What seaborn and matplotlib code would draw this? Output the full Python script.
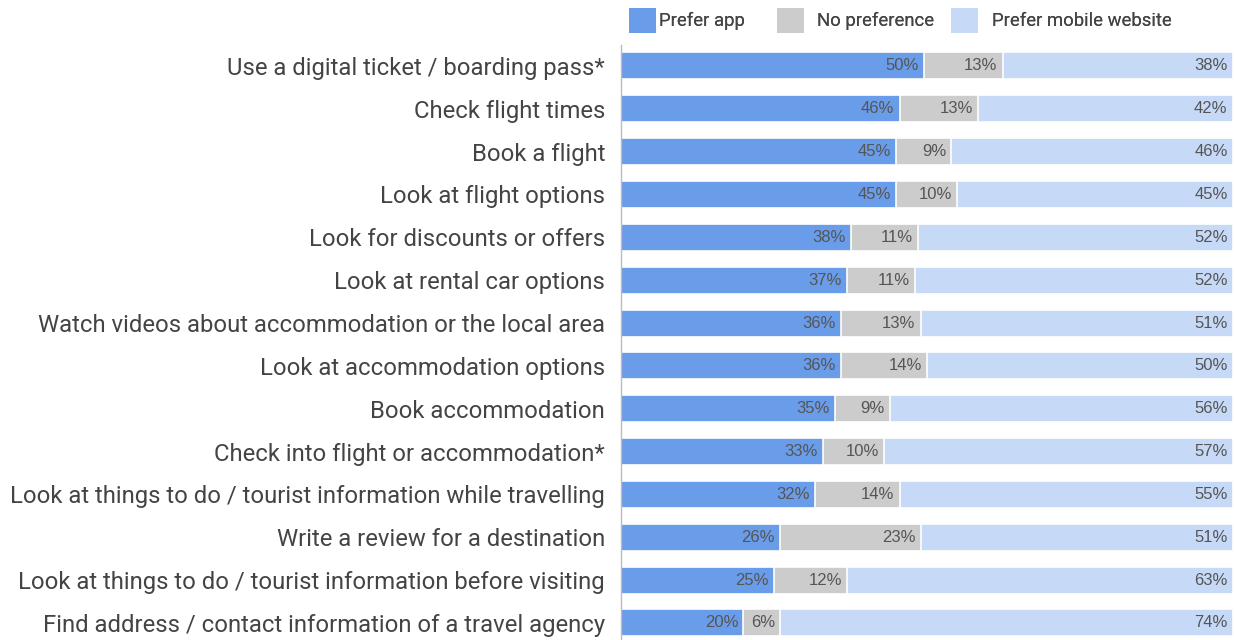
import numpy as np
import pandas as pd
import matplotlib
matplotlib.use("Agg")
import matplotlib.pyplot as plt
from matplotlib.patches import Patch
import seaborn as sns

categories = [
    "Use a digital ticket / boarding pass*",
    "Check flight times",
    "Book a flight",
    "Look at flight options",
    "Look for discounts or offers",
    "Look at rental car options",
    "Watch videos about accommodation or the local area",
    "Look at accommodation options",
    "Book accommodation",
    "Check into flight or accommodation*",
    "Look at things to do / tourist information while travelling",
    "Write a review for a destination",
    "Look at things to do / tourist information before visiting",
    "Find address / contact information of a travel agency",
]
prefer_app = [50, 46, 45, 45, 38, 37, 36, 36, 35, 33, 32, 26, 25, 20]
no_preference = [13, 13, 9, 10, 11, 11, 13, 14, 9, 10, 14, 23, 12, 6]
prefer_web = [38, 42, 46, 45, 52, 52, 51, 50, 56, 57, 55, 51, 63, 74]
series_names = ["Prefer app", "No preference", "Prefer mobile website"]

colors = ["#6a9de9", "#cccccc", "#c6d9f6"]

sns.set_theme(style="white")
plt.rcParams["font.family"] = ["Roboto", "DejaVu Sans"]

df = pd.DataFrame({
    "category": categories,
    "app": prefer_app,
    "none": no_preference,
    "web": prefer_web,
})
total = df[["app", "none", "web"]].sum(axis=1)
df["s_app"] = df["app"] / total * 100
df["s_none"] = df["none"] / total * 100
df["s_web"] = df["web"] / total * 100
df["c1"] = df["s_app"]
df["c2"] = df["s_app"] + df["s_none"]
df["c3"] = df["c2"] + df["s_web"]

W, H = 1234, 640
fig = plt.figure(figsize=(W / 100, H / 100), dpi=100)
ax = fig.add_axes([621 / W, 0.0, 613 / W, 1 - 45 / H])

# Stacked layers drawn back to front as cumulative totals
for col, color in zip(["c3", "c2", "c1"], colors[::-1]):
    sns.barplot(data=df, x=col, y="category", orient="h", color=color,
                width=0.63, edgecolor="white", linewidth=1.2,
                saturation=1, ax=ax)

ax.set_xlim(0, 100.2)
ax.set_ylim(13.4, -0.49)
ax.set_xlabel("")
ax.set_ylabel("")
ax.set_xticks([])
for side in ["top", "right", "bottom"]:
    ax.spines[side].set_visible(False)
ax.spines["left"].set_color("#bbbbbb")
ax.spines["left"].set_linewidth(1.0)
ax.tick_params(axis="y", length=0, pad=11.5, labelsize=17.2, labelcolor="#444444")

# Value labels at the right end of each segment
label_font = dict(fontsize=12, color="#555555", family=["Liberation Sans", "DejaVu Sans"],
                  ha="right", va="center")
for i, row in df.iterrows():
    for end, val in [(row["c1"], row["app"]), (row["c2"], row["none"]), (row["c3"], row["web"])]:
        ax.text(end - 0.85, i, f"{val}%", **label_font)

# Legend entries placed individually along the top
legend_x = [629, 777, 951]
text_pads = [0.16, 0.72, 0.75]
for name, color, x, pad in zip(series_names, colors, legend_x, text_pads):
    leg = fig.legend([Patch(facecolor=color, edgecolor="none")], [name],
                     loc="upper left", bbox_to_anchor=(x / W, 1 - 8 / H),
                     frameon=False, fontsize=13.3, handlelength=1.46,
                     handleheight=1.7, handletextpad=pad, borderpad=0,
                     borderaxespad=0, labelcolor="#444444")
    fig.add_artist(leg)

fig.savefig("out.png", dpi=100)
